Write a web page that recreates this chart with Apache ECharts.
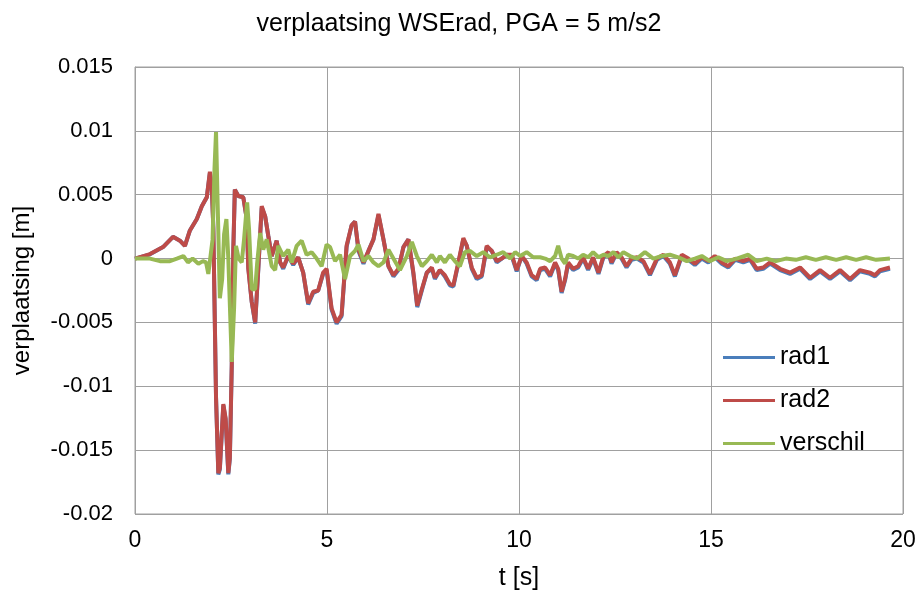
<!DOCTYPE html>
<html>
<head>
<meta charset="utf-8">
<script src="https://cdn.jsdelivr.net/npm/echarts@6/dist/echarts.min.js"></script>
<style>html,body{margin:0;padding:0;background:#fff}#c{width:918px;height:594px}</style>
</head>
<body>
<div id="c"></div>
<script>
// ---- data ----
const titleText = 'verplaatsing WSErad, PGA = 5 m/s2';
const xName = 't [s]';
const yName = 'verplaatsing [m]';
const seriesNames = ['rad1', 'rad2', 'verschil'];
const xTickLabels = ['0', '5', '10', '15', '20'];
const yTickLabels = ['-0.02', '-0.015', '-0.01', '-0.005', '0', '0.005', '0.01', '0.015'];

const tRad = [0,0.39,0.73,0.99,1.17,1.30,1.43,1.61,1.74,1.87,1.95,2.00,2.04,2.11,2.17,2.21,2.30,2.36,2.43,2.47,2.52,2.56,2.60,2.69,2.82,2.91,2.95,3.04,3.13,3.21,3.30,3.39,3.47,3.56,3.69,3.78,3.86,3.99,4.12,4.25,4.38,4.51,4.64,4.77,4.90,4.99,5.12,5.25,5.38,5.51,5.64,5.73,5.82,5.95,6.08,6.21,6.34,6.47,6.60,6.73,6.86,6.99,7.12,7.25,7.35,7.47,7.60,7.73,7.81,7.94,8.07,8.20,8.29,8.42,8.55,8.64,8.77,8.90,9.03,9.16,9.29,9.42,9.55,9.68,9.81,9.94,10.07,10.20,10.33,10.46,10.55,10.68,10.81,10.94,11.02,11.11,11.20,11.28,11.41,11.54,11.67,11.80,11.93,12.07,12.20,12.33,12.41,12.54,12.67,12.80,12.93,13.07,13.24,13.41,13.59,13.76,13.93,14.06,14.24,14.41,14.58,14.76,14.93,15.10,15.28,15.45,15.63,15.84,16.02,16.19,16.36,16.54,16.80,17.06,17.32,17.58,17.84,18.10,18.36,18.62,18.88,19.14,19.27,19.40,19.66];

const rad2 = [0,0.00035,0.0009,0.0017,0.0014,0.0010,0.0022,0.0031,0.0041,0.0048,0.0068,0.0057,0.0023,-0.0109,-0.0168,-0.0164,-0.0114,-0.0125,-0.0168,-0.0156,-0.0083,0.0007,0.0054,0.0049,0.0048,0.0031,-0.0008,-0.0034,-0.0050,-0.0008,0.0041,0.0033,0.0018,0.0002,0.0014,-0.0003,-0.0007,0.0002,-0.0004,0.0001,-0.0011,-0.0035,-0.0026,-0.0025,-0.0011,-0.0008,-0.0039,-0.0050,-0.0044,0.0010,0.0026,0.0029,0.0007,-0.0003,0.0006,0.0015,0.0035,0.0015,-0.0006,-0.0013,-0.0008,0.0009,0.0015,-0.0011,-0.0037,-0.0024,-0.0011,-0.0007,-0.0015,-0.0009,-0.0013,-0.0020,-0.0021,-0.0003,0.0016,0.0010,-0.0007,-0.0015,-0.0013,0.0010,0.0006,-0.0002,0.0000,0.0003,0.0003,-0.0009,0.0002,-0.0003,-0.0013,-0.0016,-0.0008,-0.0007,-0.0013,-0.0003,-0.0008,-0.0026,-0.0016,-0.0003,-0.0008,-0.0006,0.0001,-0.0008,0.0001,-0.0011,0.0002,0.0005,-0.0003,0.0005,0.0001,-0.0006,0.0000,0.0001,-0.0002,-0.0012,0.0000,0.0003,-0.0003,-0.0013,0.0003,0.0000,-0.0004,0.0001,-0.0002,0.0002,-0.0003,-0.0006,0.0000,-0.0002,0.0000,-0.0008,-0.0007,-0.0003,-0.0008,-0.0011,-0.0007,-0.0015,-0.0009,-0.0015,-0.0009,-0.0016,-0.0009,-0.0011,-0.0013,-0.0009,-0.0007];

const rad1 = [0,0.00033,0.0009,0.0017,0.0014,0.0010,0.0022,0.0031,0.0041,0.0048,0.0067,0.0057,0.0024,-0.0108,-0.0169,-0.0165,-0.0115,-0.0126,-0.0169,-0.0157,-0.0084,0.0006,0.0054,0.0049,0.0048,0.0031,-0.0007,-0.0034,-0.0051,-0.0009,0.0040,0.0033,0.0018,0.0002,0.0014,-0.0003,-0.0008,0.0002,-0.0005,0.0001,-0.0011,-0.0036,-0.0027,-0.0025,-0.0012,-0.0009,-0.0040,-0.0051,-0.0045,0.0009,0.0026,0.0029,0.0006,-0.0004,0.0006,0.0015,0.0034,0.0015,-0.0006,-0.0014,-0.0009,0.0009,0.0015,-0.0012,-0.0038,-0.0025,-0.0011,-0.0008,-0.0016,-0.0009,-0.0014,-0.0021,-0.0022,-0.0004,0.0015,0.0010,-0.0008,-0.0016,-0.0014,0.0009,0.0006,-0.0003,0.0000,0.0003,0.0002,-0.0010,0.0002,-0.0004,-0.0014,-0.0017,-0.0009,-0.0008,-0.0014,-0.0004,-0.0009,-0.0027,-0.0017,-0.0004,-0.0009,-0.0007,0.0000,-0.0009,0.0000,-0.0012,0.0001,0.0004,-0.0004,0.0004,0.0000,-0.0007,-0.0001,0.0000,-0.0003,-0.0013,-0.0001,0.0002,-0.0004,-0.0014,0.0002,-0.0001,-0.0005,0.0000,-0.0003,0.0001,-0.0004,-0.0007,-0.0001,-0.0003,-0.0001,-0.0009,-0.0008,-0.0004,-0.0009,-0.0012,-0.0008,-0.0016,-0.0010,-0.0016,-0.0010,-0.0017,-0.0010,-0.0012,-0.0014,-0.0010,-0.0008];

const tDiff = [0,0.39,0.65,0.91,1.09,1.26,1.38,1.50,1.65,1.77,1.85,1.91,1.95,2.02,2.07,2.11,2.15,2.21,2.27,2.32,2.38,2.43,2.52,2.58,2.63,2.70,2.78,2.84,2.92,2.97,3.04,3.13,3.18,3.26,3.34,3.43,3.56,3.65,3.73,3.86,3.99,4.08,4.21,4.34,4.47,4.60,4.73,4.86,4.99,5.08,5.21,5.34,5.47,5.60,5.73,5.82,5.95,6.08,6.21,6.34,6.47,6.60,6.73,6.90,7.08,7.21,7.34,7.47,7.60,7.73,7.86,7.94,8.07,8.20,8.33,8.46,8.59,8.72,8.90,9.07,9.24,9.42,9.59,9.77,9.90,10.03,10.20,10.37,10.55,10.68,10.81,10.94,11.02,11.11,11.20,11.28,11.41,11.54,11.67,11.80,11.93,12.07,12.20,12.33,12.46,12.59,12.72,12.89,13.07,13.28,13.50,13.72,13.93,14.15,14.37,14.58,14.76,14.97,15.19,15.41,15.67,15.97,16.19,16.45,16.69,16.95,17.21,17.47,17.73,17.99,18.26,18.52,18.78,19.04,19.30,19.66];

const verschil = [0,0.0000,-0.0002,-0.0002,0.0000,0.0002,-0.0003,0.0000,-0.0004,-0.0002,-0.0003,-0.0012,-0.0002,0.0015,0.0070,0.0099,0.0046,-0.0031,-0.0016,0.0019,0.0031,0.0000,-0.0081,-0.0039,0.0010,0.0000,-0.0003,0.0015,0.0044,0.0023,-0.0024,-0.0024,-0.0004,0.0020,0.0007,0.0015,-0.0006,-0.0009,0.0010,0.0002,0.0007,-0.0003,0.0010,0.0014,0.0003,0.0005,0.0000,-0.0006,0.0011,0.0009,-0.0002,0.0003,-0.0016,0.0002,0.0006,0.0011,-0.0002,0.0002,-0.0003,-0.0006,-0.0003,0.0007,0.0000,-0.0009,0.0002,0.0013,0.0002,-0.0006,-0.0002,0.0003,-0.0003,0.0002,-0.0003,0.0003,-0.0002,-0.0006,0.0005,0.0006,0.0002,0.0005,0.0001,0.0003,0.0005,0.0000,0.0005,0.0002,0.0005,0.0001,0.0001,0.0000,-0.0002,0.0002,0.0010,0.0000,-0.0004,0.0003,0.0002,0.0000,0.0003,0.0001,0.0005,0.0001,0.0003,0.0002,0.0005,0.0001,0.0005,0.0002,0.0000,0.0005,0.0000,0.0002,0.0003,0.0001,-0.0002,0.0000,0.0002,-0.0002,0.0001,-0.0002,0.0000,0.0003,-0.0002,0.0000,-0.0002,0.0000,-0.0001,0.0001,-0.0001,0.0001,-0.0001,0.0001,-0.0001,0.0001,-0.0001,0.0000];

const colors = ['#4a7ebb', '#be4b48', '#98b954'];

// ---- chart ----
const xMin = 0, xMax = 20, xStep = 5;
const yMin = -0.02, yMax = 0.015, yStep = 0.005;
const FONT = 'Liberation Sans';

function pairs(t, v) { return t.map((x, i) => [x, v[i]]); }

const chart = echarts.init(document.getElementById('c'), null, { renderer: 'canvas' });
chart.setOption({
  animation: false,
  backgroundColor: '#ffffff',
  textStyle: { fontFamily: FONT, color: '#000' },
  title: {
    text: titleText, left: 'center', top: 7,
    textStyle: { fontFamily: FONT, fontSize: 25, fontWeight: 'normal', color: '#000' }
  },
  grid: { left: 135, right: 15, top: 67, bottom: 80, outerBoundsMode: 'none', containLabel: false,
    show: true, borderColor: '#a0a0a0', borderWidth: 1 },
  legend: {
    orient: 'vertical', left: 718, top: 340, itemWidth: 52, itemHeight: 3, itemGap: 18,
    icon: 'rect',
    data: seriesNames,
    textStyle: { fontFamily: FONT, fontSize: 25, color: '#000' }
  },
  xAxis: {
    type: 'value', min: xMin, max: xMax, interval: xStep,
    name: xName, nameLocation: 'middle', nameGap: 52,
    nameTextStyle: { fontFamily: FONT, fontSize: 25, color: '#000' },
    axisLine: { lineStyle: { color: '#a0a0a0' } },
    axisTick: { show: false },
    axisLabel: { fontFamily: FONT, fontSize: 23, color: '#000', margin: 15,
      formatter: v => xTickLabels[Math.round((v - xMin) / xStep)] },
    splitLine: { lineStyle: { color: '#a0a0a0', width: 1 } }
  },
  yAxis: {
    type: 'value', min: yMin, max: yMax, interval: yStep,
    name: yName, nameLocation: 'middle', nameGap: 101, nameRotate: 90,
    nameTextStyle: { fontFamily: FONT, fontSize: 24, color: '#000' },
    axisLine: { show: true, lineStyle: { color: '#a0a0a0' } },
    axisTick: { show: false },
    axisLabel: { fontFamily: FONT, fontSize: 22, color: '#000', margin: 22,
      formatter: v => yTickLabels[Math.round((v - yMin) / yStep)] },
    splitLine: { lineStyle: { color: '#a0a0a0', width: 1 } }
  },
  series: [
    { name: seriesNames[0], type: 'line', data: pairs(tRad, rad1), showSymbol: false, symbol: 'none',
      lineStyle: { color: colors[0], width: 4 }, itemStyle: { color: colors[0] } },
    { name: seriesNames[1], type: 'line', data: pairs(tRad, rad2), showSymbol: false, symbol: 'none',
      lineStyle: { color: colors[1], width: 4 }, itemStyle: { color: colors[1] } },
    { name: seriesNames[2], type: 'line', data: pairs(tDiff, verschil), showSymbol: false, symbol: 'none',
      lineStyle: { color: colors[2], width: 4 }, itemStyle: { color: colors[2] } }
  ]
});
</script>
</body>
</html>
